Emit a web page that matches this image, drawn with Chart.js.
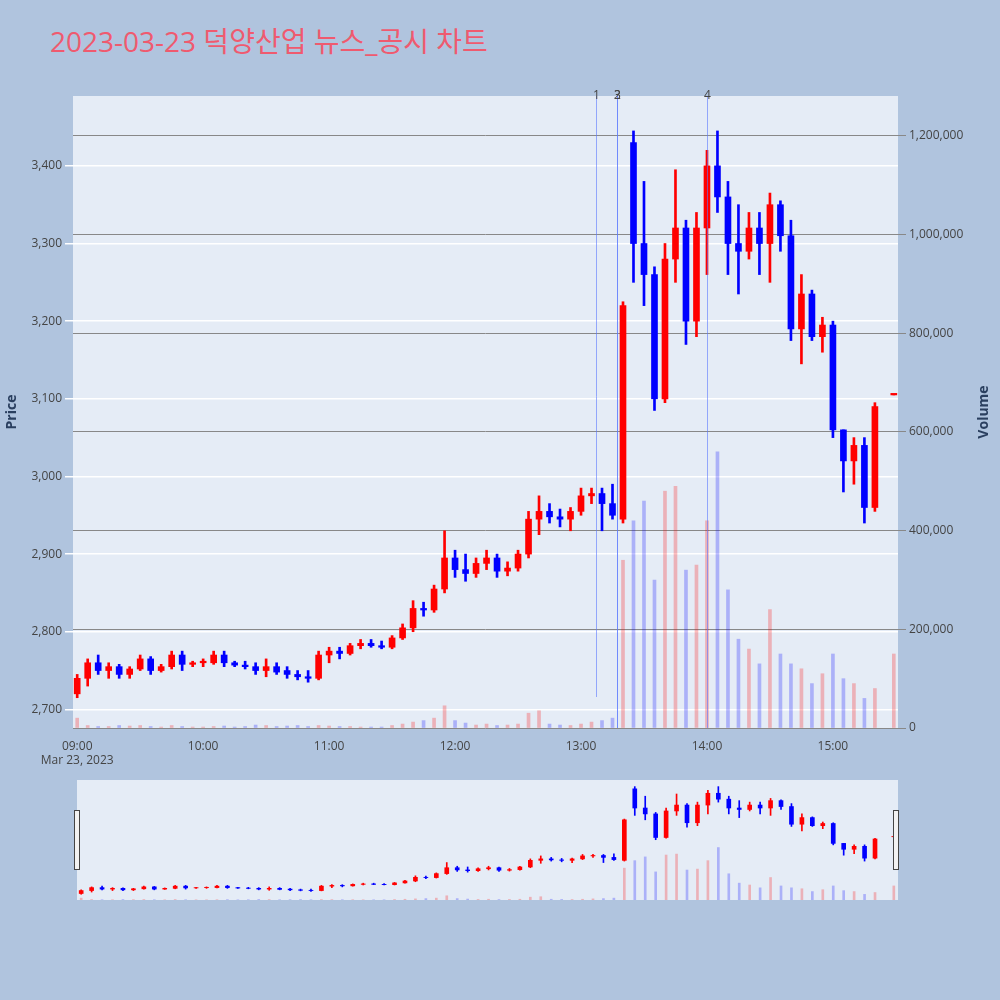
<!DOCTYPE html>
<html>
<head>
<meta charset="utf-8">
<script src="https://cdn.jsdelivr.net/npm/chart.js@4"></script>
<style>
  body { margin: 0; background: #b0c4de; font-family: "Open Sans", "Noto Sans CJK KR", sans-serif; }
  #wrap { position: relative; width: 1000px; height: 1000px; }
  #title { position: absolute; left: 50px; top: 20px; font-size: 28px; color: #ef5a6f; font-family: "Open Sans", "Noto Sans CJK KR", sans-serif; }
  #main { position: absolute; left: 0; top: 0; }
  #mini { position: absolute; left: 0; top: 780px; }
  .handle { position: absolute; top: 810px; width: 4px; height: 58px; background: #f2f2f2; border: 1px solid #444; }
</style>
</head>
<body>
<div id="wrap">
  <div id="title">2023-03-23 덕양산업 뉴스_공시 차트</div>
  <canvas id="main" width="1000" height="775"></canvas>
  <canvas id="mini" width="1000" height="120"></canvas>
  <div class="handle" style="left:74px"></div>
  <div class="handle" style="left:893px"></div>
</div>
<script>
// minutes after 09:00
const minutes = [0,5,10,15,20,25,30,35,40,45,50,55,60,65,70,75,80,85,90,95,
  100,105,110,115,120,125,130,135,140,145,150,155,160,165,170,175,180,185,190,195,
  200,205,210,215,220,225,230,235,240,245,250,255,260,265,270,275,280,285,290,295,
  300,305,310,315,320,325,330,335,340,345,350,355,360,365,370,375,380,389]
const open  = [2720,2740,2760,2750,2755,2745,2752,2765,2750,2755,2770,2758,2760,2760,2770,2760,2757,2755,2750,2755,
  2750,2745,2742,2740,2770,2775,2772,2782,2785,2782,2780,2792,2805,2830,2828,2855,2895,2880,2875,2888,
  2895,2878,2882,2900,2945,2955,2948,2945,2955,2975,2978,2965,2945,3430,3300,3260,3100,3280,3320,3200,
  3320,3400,3360,3300,3290,3320,3300,3350,3310,3190,3235,3180,3195,3060,3020,3040,2960,3105]
const high  = [2745,2765,2770,2760,2758,2755,2770,2768,2758,2775,2775,2762,2765,2775,2775,2762,2762,2760,2765,2760,
  2755,2750,2750,2775,2780,2780,2785,2790,2790,2788,2795,2810,2840,2838,2860,2930,2905,2900,2895,2905,
  2900,2890,2905,2955,2975,2965,2958,2960,2985,2985,2985,2990,3225,3445,3380,3270,3300,3395,3330,3340,
  3420,3445,3380,3350,3340,3340,3365,3355,3330,3260,3240,3205,3200,3060,3050,3050,3095,3105]
const low   = [2715,2730,2745,2740,2740,2740,2750,2745,2748,2752,2750,2755,2755,2758,2755,2755,2752,2745,2742,2745,
  2740,2738,2735,2738,2760,2765,2770,2778,2780,2778,2778,2790,2800,2820,2825,2850,2870,2865,2870,2880,
  2870,2872,2878,2895,2925,2940,2935,2930,2950,2965,2930,2945,2940,3250,3220,3085,3095,3250,3170,3180,
  3260,3340,3260,3235,3280,3260,3250,3290,3175,3145,3175,3160,3050,2980,2990,2940,2955,3105]
const close = [2740,2760,2750,2755,2745,2752,2765,2750,2755,2770,2758,2760,2760,2770,2760,2757,2755,2750,2755,2748,
  2745,2742,2740,2770,2775,2772,2782,2785,2782,2780,2792,2805,2830,2828,2855,2895,2880,2875,2888,2895,
  2878,2882,2900,2945,2955,2948,2945,2955,2975,2978,2965,2950,3220,3300,3260,3100,3280,3320,3200,3320,
  3400,3360,3300,3290,3320,3300,3350,3310,3190,3235,3180,3195,3060,3020,3040,2960,3090,3105]
const volume = [20000,5000,3000,3000,5000,4000,5000,3000,2000,5000,3000,2000,2000,3000,4000,2000,3000,6000,5000,3000,
  4000,5000,3000,5000,4000,3000,3000,2000,2000,2000,5000,8000,12000,15000,20000,45000,15000,10000,6000,8000,
  5000,6000,8000,30000,35000,8000,6000,5000,8000,12000,15000,20000,340000,420000,460000,300000,480000,490000,320000,330000,
  420000,560000,280000,180000,160000,130000,240000,150000,130000,120000,90000,110000,150000,100000,90000,60000,80000,150000]
const hourTicks = [0,60,120,180,240,300,360]
const hourLabels = ['09:00','10:00','11:00','12:00','13:00','14:00','15:00']
const eventTimes = [247,257,257,300]
const eventLabels = ['1','2','3','4']

const UP = '#ff0000', DOWN = '#0000ff'
const up = minutes.map((m, i) => close[i] >= open[i])
const pts = arr => minutes.map((m, i) => ({ x: m, y: arr(i) }))

function makeDatasets(thick) {
  return [
    { type: 'bar', data: pts(i => [low[i], high[i]]), backgroundColor: up.map(u => u ? UP : DOWN),
      barThickness: thick ? 2 : 1, grouped: false, yAxisID: 'y', order: 1 },
    { type: 'bar', data: pts(i => [open[i], close[i] === open[i] ? close[i] + 2 : close[i]]),
      backgroundColor: up.map(u => u ? UP : DOWN), barThickness: thick ? 6 : 4, grouped: false, yAxisID: 'y', order: 1 },
    { type: 'bar', data: pts(i => volume[i]), backgroundColor: up.map(u => u ? 'rgba(255,0,0,0.25)' : 'rgba(0,0,255,0.25)'),
      barThickness: thick ? 3 : 2, grouped: false, yAxisID: 'y1', order: 2 }
  ]
}

const bgPlugin = {
  id: 'bg',
  beforeDraw(c) {
    const a = c.chartArea, ctx = c.ctx
    ctx.save(); ctx.fillStyle = '#e5ecf6'; ctx.fillRect(a.left, a.top, a.right - a.left, a.bottom - a.top); ctx.restore()
  }
}
const eventPlugin = {
  id: 'events',
  afterDatasetsDraw(c) {
    const a = c.chartArea, ctx = c.ctx, xs = c.scales.x
    ctx.save()
    eventTimes.forEach((t, i) => {
      const x = Math.round(xs.getPixelForValue(t)) + 0.5
      ctx.strokeStyle = 'rgba(90,120,255,0.6)'; ctx.lineWidth = 1
      ctx.beginPath(); ctx.moveTo(x, a.top); ctx.lineTo(x, i === 0 ? a.bottom - 31 : a.bottom); ctx.stroke()
      ctx.fillStyle = '#444'; ctx.font = '12px "Open Sans"'; ctx.textAlign = 'center'; ctx.textBaseline = 'middle'
      ctx.fillText(eventLabels[i], x, a.top)
    })
    // right axis title, read bottom to top
    ctx.translate(984, (a.top + a.bottom) / 2); ctx.rotate(-Math.PI / 2)
    ctx.fillStyle = '#2a3f5f'; ctx.font = 'bold 14px "Open Sans"'; ctx.textAlign = 'center'; ctx.textBaseline = 'middle'
    ctx.fillText('Volume', 0, 0)
    ctx.restore()
  }
}

const tickFont = { family: '"Open Sans"', size: 12 }
new Chart(document.getElementById('main'), {
  data: { datasets: makeDatasets(true) },
  options: {
    responsive: false, animation: false,
    layout: { padding: { top: 96, left: 0, right: 0, bottom: 0 } },
    plugins: { legend: { display: false }, tooltip: { enabled: false } },
    scales: {
      x: { type: 'linear', min: -2, max: 391, offset: false,
        afterBuildTicks: s => { s.ticks = hourTicks.map(v => ({ value: v })) },
        afterFit: s => { s.height = 47 },
        ticks: { autoSkip: false, maxRotation: 0, color: '#444', font: tickFont,
          callback: (v) => { const k = hourTicks.indexOf(v); return k === 0 ? [hourLabels[0], 'Mar 23, 2023'] : hourLabels[k] } },
        grid: { display: false }, border: { display: false } },
      y: { position: 'left', min: 2676, max: 3490,
        afterBuildTicks: s => { s.ticks = [2700,2800,2900,3000,3100,3200,3300,3400].map(v => ({ value: v })) },
        afterFit: s => { s.width = 73 },
        ticks: { color: '#444', font: tickFont, callback: v => v.toLocaleString('en-US') },
        grid: { color: '#ffffff', lineWidth: 1.5 }, border: { display: false },
        title: { display: true, text: 'Price', color: '#2a3f5f', font: { family: '"Open Sans"', size: 14, weight: 'bold' } } },
      y1: { position: 'right', min: 0, max: 1281000,
        afterBuildTicks: s => { s.ticks = [0,200000,400000,600000,800000,1000000,1200000].map(v => ({ value: v })) },
        afterFit: s => { s.width = 102 },
        ticks: { color: '#444', font: tickFont, callback: v => v.toLocaleString('en-US') },
        grid: { color: '#888', lineWidth: 1 }, border: { display: false } }
    }
  },
  plugins: [bgPlugin, eventPlugin]
})

new Chart(document.getElementById('mini'), {
  data: { datasets: makeDatasets(false) },
  options: {
    responsive: false, animation: false,
    layout: { padding: { top: 0, left: 77, right: 102, bottom: 0 } },
    plugins: { legend: { display: false }, tooltip: { enabled: false } },
    scales: {
      x: { type: 'linear', min: -2, max: 391, offset: false, display: false },
      y: { min: 2676, max: 3490, display: false },
      y1: { min: 0, max: 1281000, display: false }
    }
  },
  plugins: [bgPlugin]
})
</script>
</body>
</html>
